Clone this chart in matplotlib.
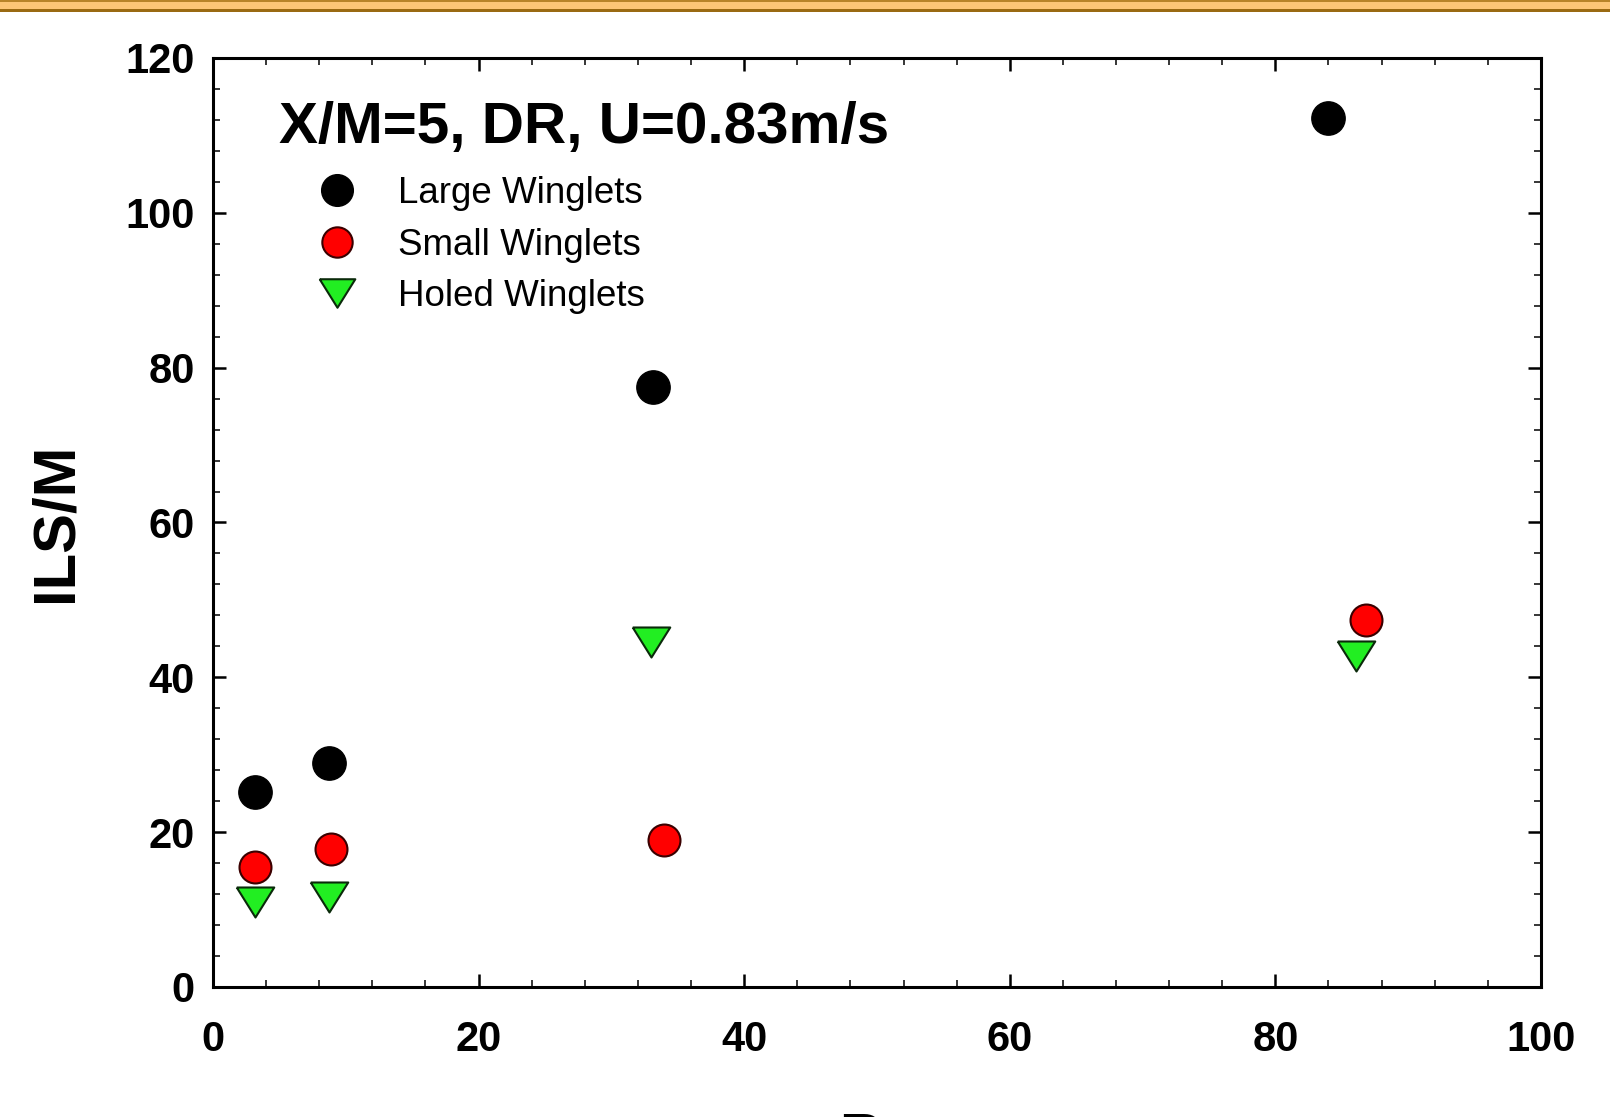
import matplotlib.pyplot as plt
from matplotlib.patches import Rectangle
from matplotlib.ticker import MultipleLocator

plt.rcParams['font.family'] = ['Liberation Sans', 'DejaVu Sans']

# data
re_large = [3.2, 8.7, 33.1, 84.0]
ils_large = [25.2, 28.9, 77.5, 112.2]
re_small = [3.2, 8.9, 34.0, 86.8]
ils_small = [15.5, 17.8, 19.0, 47.4]
re_holed = [3.2, 8.7, 33.0, 86.1]
ils_holed = [11.0, 11.6, 44.6, 42.8]

title = 'X/M=5, DR, U=0.83m/s'
labels = ['Large Winglets', 'Small Winglets', 'Holed Winglets']

fig = plt.figure(figsize=(16.1, 11.17), dpi=100)
ax = fig.add_axes([0.1323, 0.1164, 0.8248, 0.8317])

# orange slide band along the top edge
fig.patches.append(Rectangle((0, 1 - 11/1117), 1, 11/1117, transform=fig.transFigure,
                             facecolor='#fcc676', edgecolor='none', zorder=0))
fig.patches.append(Rectangle((0, 1 - 12/1117), 1, 3/1117, transform=fig.transFigure,
                             facecolor='#9a6a12', edgecolor='none', zorder=1))
fig.patches.append(Rectangle((0, 1 - 2/1117), 1, 2/1117, transform=fig.transFigure,
                             facecolor='#b88428', edgecolor='none', zorder=1))

tri = [(-1.0, 0.8), (1.0, 0.8), (0.0, -0.8), (-1.0, 0.8)]

ax.plot(re_large, ils_large, ls='none', marker='o', ms=24, mfc='black', mec='black',
        label=labels[0], zorder=3)
ax.plot(re_small, ils_small, ls='none', marker='o', ms=23, mfc='#ff0000', mec='#3a0000',
        mew=1.5, label=labels[1], zorder=3)
ax.plot(re_holed, ils_holed, ls='none', marker=tri, ms=27, mfc='#22ee22', mec='#0a2a0a',
        mew=1.5, label=labels[2], zorder=3)

ax.set_xlim(0, 100)
ax.set_ylim(0, 120)
ax.xaxis.set_major_locator(MultipleLocator(20))
ax.xaxis.set_minor_locator(MultipleLocator(4))
ax.yaxis.set_major_locator(MultipleLocator(20))
ax.yaxis.set_minor_locator(MultipleLocator(4))

for s in ax.spines.values():
    s.set_linewidth(2.2)
ax.tick_params(which='both', direction='in', top=True, right=True)
ax.tick_params(which='major', length=9.5, width=1.8)
ax.tick_params(which='minor', length=5, width=1.1)
ax.tick_params(axis='x', which='major', pad=24)
ax.tick_params(axis='y', which='major', pad=13)
for lab in ax.get_xticklabels() + ax.get_yticklabels():
    lab.set_fontsize(30)
    lab.set_fontweight('bold')

ax.set_ylabel('ILS/M', fontsize=43, fontweight='bold')
ax.yaxis.set_label_coords(-0.0975, 0.5)
ax.set_xlabel('Re', fontsize=42, fontweight='bold', va='top')
ax.xaxis.set_label_coords(0.5, -0.134)

ax.text(0.05, 0.9085, title, transform=ax.transAxes, fontsize=42, fontweight='bold',
        va='baseline', ha='left')

ax.legend(loc='upper left', bbox_to_anchor=(0.0798, 0.873), frameon=False, fontsize=26.5,
          handlelength=1.0, handletextpad=1.15, labelspacing=0.45, borderpad=0,
          borderaxespad=0, markerscale=0.95)

fig.savefig('out.png', dpi=100)
